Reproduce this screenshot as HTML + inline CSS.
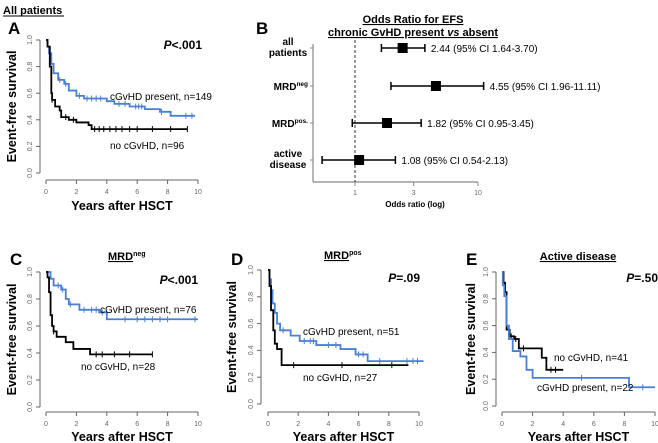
<!DOCTYPE html>
<html><head><meta charset="utf-8"><style>
body{margin:0;background:#fff}
svg{display:block;font-family:"Liberation Sans",Arial,sans-serif}
</style></head><body>
<svg id="fig" width="658" height="443" viewBox="0 0 658 443">
<text x="3" y="14" font-size="11" font-weight="bold">All patients</text>
<line x1="3" y1="16" x2="64" y2="16" stroke="#000" stroke-width="1"/>
</svg>
<script>
// ---- Data ----
const aBlueT=[0,0.1,0.2,0.35,0.5,0.8,1.2,1.5,2.0,2.5,4.0,4.5,5.5,6.5,7.5,8.2];
const aBlueS=[1,0.95,0.9,0.82,0.75,0.70,0.67,0.62,0.58,0.56,0.54,0.52,0.50,0.48,0.46,0.43];
const aBlueEnd=9.8;
const aBlackT=[0,0.1,0.25,0.35,0.4,0.6,0.9,1.0,1.5,2.0,2.8,3.0];
const aBlackS=[1,0.95,0.80,0.60,0.55,0.50,0.47,0.42,0.40,0.38,0.36,0.33];
const aBlackEnd=9.3;
const aBlueCens=[0.9,1.3,2.2,2.7,3.0,3.3,3.6,4.8,5.2,5.9,6.1,6.3,7.6,9.2,9.6];
const aBlackCens=[0.4,1.3,1.8,3.2,3.5,3.8,4.2,4.6,5.0,5.5,6.0,7.0,8.2,9.3];

const cBlueT=[0,0.3,0.5,1.0,1.3,1.5,2.2,3.5,4.0];
const cBlueS=[1,0.95,0.9,0.87,0.8,0.76,0.72,0.70,0.65];
const cBlueEnd=10;
const cBlackT=[0,0.1,0.2,0.3,0.4,0.5,0.7,1.3,1.8,2.9];
const cBlackS=[1,0.96,0.85,0.68,0.60,0.56,0.52,0.48,0.43,0.39];
const cBlackEnd=7;
const cBlueCens=[0.8,1.1,1.6,2.5,3.0,3.3,3.7,5.2,6.0,6.5,7.0,7.5,8.0,9.8];
const cBlackCens=[0.5,3.3,3.7,4.5,5.5,7.0];

const dBlueT=[0,0.1,0.2,0.3,0.45,0.6,0.8,1.5,2.1,3.2,4.8,5.8,6.6];
const dBlueS=[1,0.93,0.85,0.75,0.68,0.60,0.55,0.51,0.47,0.44,0.41,0.37,0.32];
const dBlueEnd=10.3;
const dBlackT=[0,0.1,0.2,0.35,0.45,0.6,0.9];
const dBlackS=[1,0.88,0.70,0.55,0.45,0.41,0.29];
const dBlackEnd=9.3;
const dBlueCens=[1.0,2.4,2.8,3.0,4.0,4.5,6.0,6.3,7.4,9.2,9.6,9.9];
const dBlackCens=[1.7,4.9,8.2];

const eBlackT=[0,0.1,0.2,0.3,0.5,0.8,1.1,2.6,2.9];
const eBlackS=[1,0.92,0.85,0.57,0.52,0.50,0.43,0.36,0.27];
const eBlackEnd=4.0;
const eBlueT=[0,0.05,0.15,0.3,0.45,0.7,1.2,1.6,2.0,8.3];
const eBlueS=[1,0.9,0.82,0.6,0.5,0.41,0.37,0.27,0.21,0.14];
const eBlueEnd=10;
const eBlackCens=[0.6,0.9,1.4,3.2,3.5];
const eBlueCens=[5.2,9.2];

const forestLabels=[["all","patients"],["MRD","neg"],["MRD","pos."],["active","disease"]];
const forestOR=[2.44,4.55,1.82,1.08];
const forestLo=[1.64,1.96,0.95,0.54];
const forestHi=[3.70,11.11,3.45,2.13];
const forestText=["2.44 (95% CI 1.64-3.70)","4.55 (95% CI 1.96-11.11)","1.82 (95% CI 0.95-3.45)","1.08 (95% CI 0.54-2.13)"];
const forestTicks=[1,3,10];
const kmXTicks=[0,2,4,6,8,10];
const kmYTicks=[0,0.2,0.4,0.6,0.8,1.0];

const NS="http://www.w3.org/2000/svg";
const svg=document.getElementById('fig');
function mk(tag,attrs,parent,txt){const e=document.createElementNS(NS,tag);for(const k in attrs)e.setAttribute(k,attrs[k]);if(txt!==undefined)e.textContent=txt;(parent||svg).appendChild(e);return e;}
const BLUE="#4a7fd6";

function km(p){
  const g=mk('g',{});
  
  
  const X=t=>p.x0+(p.x10-p.x0)*t/10, Y=s=>p.y0-(p.y0-p.y1)*s;
  const ya=mk('line',{x1:p.ax,y1:Y(0),x2:p.ax,y2:Y(1),stroke:'#666','stroke-width':1},g);
  
  kmYTicks.forEach(v=>{mk('line',{x1:p.ax-4,y1:Y(v),x2:p.ax,y2:Y(v),stroke:'#666'},g);
    const t=mk('text',{x:p.ax-8,y:Y(v),'font-size':7,fill:'#666','text-anchor':'middle',transform:`rotate(-90 ${p.ax-8} ${Y(v)})`},g,v.toFixed(1));
    });
  const xa=mk('line',{x1:X(0),y1:p.ay,x2:X(10),y2:p.ay,stroke:'#666'},g);
  
  kmXTicks.forEach(v=>{mk('line',{x1:X(v),y1:p.ay,x2:X(v),y2:p.ay+4,stroke:'#666'},g);
    const t=mk('text',{x:X(v),y:p.ay+14,'font-size':7,fill:'#666','text-anchor':'middle'},g,v);
    });
  const yl=mk('text',{x:p.ylx,y:(Y(0)+Y(1))/2,'font-size':12.5,'font-weight':'bold','text-anchor':'middle',transform:`rotate(-90 ${p.ylx} ${(Y(0)+Y(1))/2})`},g,'Event-free survival');
  
  const xl=mk('text',{x:(X(0)+X(10))/2,y:p.xly,'font-size':12.5,'font-weight':'bold','text-anchor':'middle'},g,'Years after HSCT');
  
  p.series.forEach(s=>{
    let d=`M${X(s.t[0])},${Y(s.s[0])}`;
    for(let i=1;i<s.t.length;i++){d+=` H${X(s.t[i])} V${Y(s.s[i])}`;}
    d+=` H${X(s.end)}`;
    const path=mk('path',{d:d,fill:'none',stroke:s.c,'stroke-width':1.8},g);
    
    s.cens.forEach(ct=>{let v=s.s[0];for(let i=0;i<s.t.length;i++)if(s.t[i]<=ct)v=s.s[i];
      const c=mk('path',{d:`M${X(ct)},${Y(v)-3}V${Y(v)+3}`,stroke:s.c,'stroke-width':1},g);
      });
  });
  p.texts.forEach(t=>{const e=mk('text',{x:t.x,y:t.y,'font-size':t.fs||10,'font-weight':t.b?'bold':'normal','font-style':t.i?'italic':'normal','text-anchor':t.a||'start'},g);
    
    if(t.html)e.innerHTML=t.html;else e.textContent=t.s;});
}

km({name:'panel-a',x0:46,x10:198,y0:173,y1:40,ax:40,ay:180,ylx:16,xly:210,
 series:[{t:aBlueT,s:aBlueS,end:aBlueEnd,cens:aBlueCens,c:BLUE,n:'cgvhd-present'},{t:aBlackT,s:aBlackS,end:aBlackEnd,cens:aBlackCens,c:'#000',n:'no-cgvhd'}],
 texts:[{x:8,y:34,s:'A',fs:17,b:1,n:'panel-letter-a'},{x:202,y:49,html:'<tspan font-style="italic">P</tspan>&lt;.001',fs:12,b:1,a:'end',n:'p-value'},
  {x:110,y:100,s:'cGvHD present, n=149',n:'label-cgvhd-present'},{x:110,y:149,s:'no cGvHD, n=96',n:'label-no-cgvhd'}]});

km({name:'panel-c',x0:46,x10:198,y0:407,y1:272,ax:40,ay:412,ylx:16,xly:441,
 series:[{t:cBlueT,s:cBlueS,end:cBlueEnd,cens:cBlueCens,c:BLUE,n:'cgvhd-present'},{t:cBlackT,s:cBlackS,end:cBlackEnd,cens:cBlackCens,c:'#000',n:'no-cgvhd'}],
 texts:[{x:10,y:265,s:'C',fs:17,b:1,n:'panel-letter-c'},{x:198,y:284,html:'<tspan font-style="italic">P</tspan>&lt;.001',fs:12,b:1,a:'end',n:'p-value'},
  {x:108,y:260,html:'<tspan text-decoration="underline">MRD</tspan><tspan font-size="7" dy="-4">neg</tspan>',fs:11,b:1,n:'panel-title'},
  {x:100,y:313,s:'cGvHD present, n=76',n:'label-cgvhd-present'},{x:81,y:370,s:'no cGvHD, n=28',n:'label-no-cgvhd'}]});

km({name:'panel-d',x0:268,x10:419,y0:404,y1:270,ax:261,ay:412,ylx:236,xly:441,
 series:[{t:dBlueT,s:dBlueS,end:dBlueEnd,cens:dBlueCens,c:BLUE,n:'cgvhd-present'},{t:dBlackT,s:dBlackS,end:dBlackEnd,cens:dBlackCens,c:'#000',n:'no-cgvhd'}],
 texts:[{x:231,y:265,s:'D',fs:17,b:1,n:'panel-letter-d'},{x:420,y:282,html:'<tspan font-style="italic">P</tspan>=.09',fs:12,b:1,a:'end',n:'p-value'},
  {x:324,y:259,html:'<tspan text-decoration="underline">MRD</tspan><tspan font-size="7" dy="-4">pos</tspan>',fs:11,b:1,n:'panel-title'},
  {x:303,y:335,s:'cGvHD present, n=51',n:'label-cgvhd-present'},{x:303,y:381,s:'no cGvHD, n=27',n:'label-no-cgvhd'}]});

km({name:'panel-e',x0:502,x10:655,y0:406,y1:272,ax:496,ay:412,ylx:475,xly:441,
 series:[{t:eBlackT,s:eBlackS,end:eBlackEnd,cens:eBlackCens,c:'#000',n:'no-cgvhd'},{t:eBlueT,s:eBlueS,end:eBlueEnd,cens:eBlueCens,c:BLUE,n:'cgvhd-present'}],
 texts:[{x:466,y:265,s:'E',fs:17,b:1,n:'panel-letter-e'},{x:658,y:282,html:'<tspan font-style="italic">P</tspan>=.50',fs:12,b:1,a:'end',n:'p-value'},
  {x:578,y:260,html:'<tspan text-decoration="underline">Active disease</tspan>',fs:11,b:1,a:'middle',n:'panel-title'},
  {x:554,y:361,s:'no cGvHD, n=41',n:'label-no-cgvhd'},{x:537,y:391,s:'cGvHD present, n=22',n:'label-cgvhd-present'}]});

// ---- Forest plot B ----
(function(){
  const g=mk('g',{});
  
  const X=v=>355+123*Math.log10(v);
  const rowY=[48,86,123,160];
  const bl=mk('text',{x:256,y:34,'font-size':17,'font-weight':'bold'},g,'B');
  
  const t1=mk('text',{x:413,y:23,'font-size':11,'font-weight':'bold','text-anchor':'middle','text-decoration':'underline'},g,'Odds Ratio for EFS');
  
  const t2=mk('text',{x:413,y:36,'font-size':11,'font-weight':'bold','text-anchor':'middle','text-decoration':'underline'},g);
  t2.innerHTML='chronic GvHD present <tspan font-style="italic">vs</tspan> absent';
  
  mk('line',{x1:313,y1:44,x2:313,y2:182,stroke:'#888','stroke-width':1.2},g);
  mk('line',{x1:313,y1:182,x2:X(10),y2:182,stroke:'#888','stroke-width':1.2},g);
  const ref=mk('line',{x1:X(1),y1:40,x2:X(1),y2:182,stroke:'#333','stroke-dasharray':'3,2'},g);
  
  forestTicks.forEach(v=>{mk('line',{x1:X(v),y1:182,x2:X(v),y2:186,stroke:'#888'},g);
    const t=mk('text',{x:X(v),y:195,'font-size':7,fill:'#666','text-anchor':'middle'},g,v);
    });
  const xl=mk('text',{x:415,y:207,'font-size':8,'font-weight':'bold','text-anchor':'middle'},g,'Odds ratio (log)');
  
  forestOR.forEach((or,i)=>{
    const y=rowY[i];
    mk('line',{x1:310,y1:y,x2:313,y2:y,stroke:'#888'},g);
    const ci=mk('path',{d:`M${X(forestLo[i])},${y-4}V${y+4}M${X(forestLo[i])},${y}H${X(forestHi[i])}M${X(forestHi[i])},${y-4}V${y+4}`,stroke:'#000','stroke-width':1.5,fill:'none'},g);
    
    const sq=mk('rect',{x:X(or)-5,y:y-5,width:10,height:10,fill:'#000'},g);
    
    const tx=mk('text',{x:X(forestHi[i])+6,y:y+4,'font-size':10},g,forestText[i]);
    
    const lab=forestLabels[i];
    let l;
    if(i==1||i==2){l=mk('text',{x:308,y:y+4,'font-size':10,'font-weight':'bold','text-anchor':'end'},g);
      l.innerHTML=lab[0]+'<tspan font-size="6.5" dy="-4">'+lab[1]+'</tspan>';}
    else{l=mk('text',{x:288,y:y-3,'font-size':10,'font-weight':'bold','text-anchor':'middle'},g);
      l.innerHTML=`<tspan x="288">${lab[0]}</tspan><tspan x="288" dy="11">${lab[1]}</tspan>`;}
    
  });
})();
</script>
</body></html>
